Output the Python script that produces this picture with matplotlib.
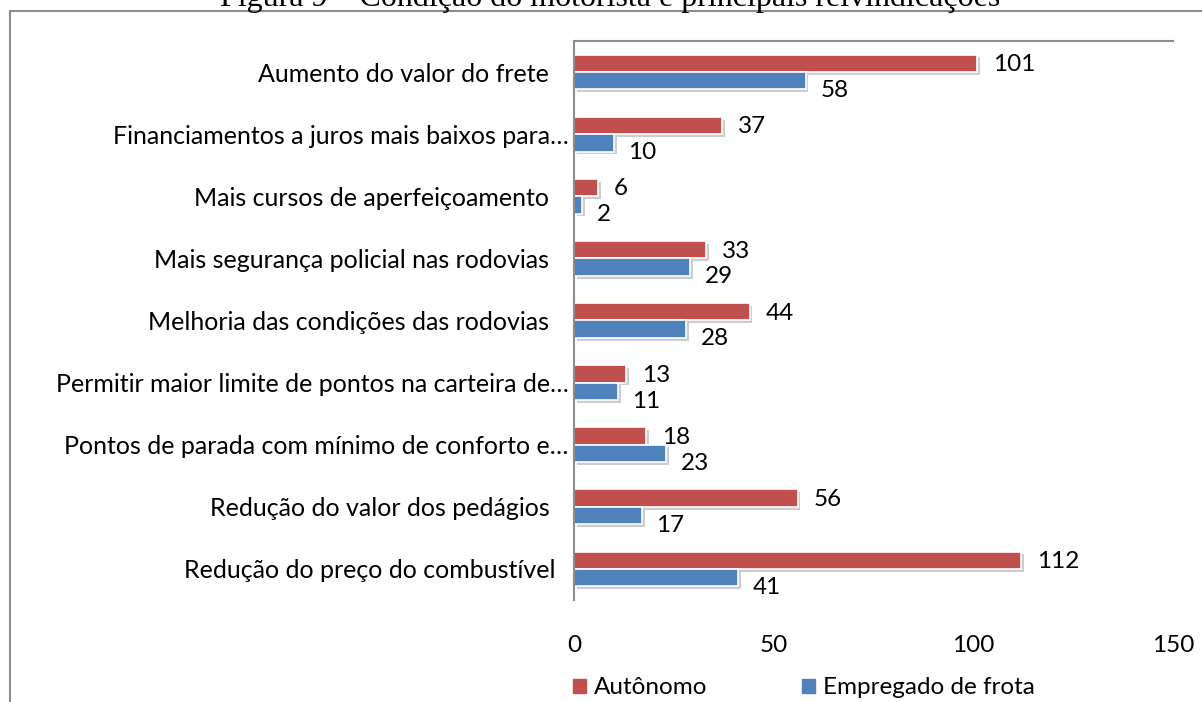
import matplotlib
matplotlib.use("Agg")
from matplotlib import pyplot as plt
from matplotlib import patheffects as pe
from matplotlib.patches import Rectangle, Patch
import numpy as np

plt.rcParams['font.family'] = ['Lato', 'DejaVu Sans']

categories = [
    "Aumento do valor do frete   ",
    "Financiamentos a juros mais baixos para\u2026",
    "Mais cursos de aperfeiçoamento   ",
    "Mais segurança policial nas rodovias   ",
    "Melhoria das condições das rodovias   ",
    "Permitir maior limite de pontos na carteira de\u2026",
    "Pontos de parada com mínimo de conforto e\u2026",
    "Redução do valor dos pedágios   ",
    "Redução do preço do combustível  ",
]
autonomo = [101, 37, 6, 33, 44, 13, 18, 56, 112]
empregado = [58, 10, 2, 29, 28, 11, 23, 17, 41]
series_names = ["Autônomo", "Empregado de frota"]
xticks = [0, 50, 100, 150]

red = "#C0504D"
blue = "#4F81BD"
gray = "#8C8C8C"
fs = 17.5

fig = plt.figure(figsize=(12.02, 7.02), dpi=100)

# outer frame and the cut-off caption above it
fig.patches.append(Rectangle((9.5 / 1202, -0.1), 1.2, 1 - 11 / 702 + 0.1,
                             transform=fig.transFigure, fill=False,
                             edgecolor=gray, linewidth=1.5))
fig.text(610 / 1202, 1 - 6 / 702, "Figura 9 \u2013 Condição do motorista e principais reivindicações",
         family="Liberation Serif", fontsize=23, ha="center", va="baseline")

ax = fig.add_axes([574 / 1202, 1 - 600 / 702, (1173 - 574) / 1202, (600 - 41) / 702])

y = np.arange(len(categories))
h = 0.28
shadow = [pe.SimplePatchShadow(offset=(2, -2), shadow_rgbFace="#9a9a9a", alpha=0.5), pe.Normal()]
b1 = ax.barh(y - h / 2, autonomo, height=h, color=red, edgecolor="white", linewidth=1.2)
b2 = ax.barh(y + h / 2, empregado, height=h, color=blue, edgecolor="white", linewidth=1.2)
for b in list(b1) + list(b2):
    b.set_path_effects(shadow)

for yi, v in zip(y, autonomo):
    ax.annotate(str(v), (v, yi - h / 2), xytext=(11.5, -1), textcoords="offset points",
                ha="left", va="center", fontsize=fs)
for yi, v in zip(y, empregado):
    ax.annotate(str(v), (v, yi + h / 2), xytext=(10.5, -7), textcoords="offset points",
                ha="left", va="center", fontsize=fs)

ax.set_xlim(0, 150)
ax.set_ylim(len(categories) - 0.5, -0.5)
ax.set_yticks(y)
ax.set_yticklabels(categories, fontsize=18)
ax.set_xticks(xticks)
ax.set_xticklabels([str(t) for t in xticks], fontsize=fs)
ax.tick_params(axis="y", length=0, pad=4)
ax.tick_params(axis="x", length=0, pad=25)

for s in ["right", "bottom"]:
    ax.spines[s].set_visible(False)
for s in ["left", "top"]:
    ax.spines[s].set_color(gray)
    ax.spines[s].set_linewidth(1.5)

handles = [Patch(color=red, label=series_names[0]), Patch(color=blue, label=series_names[1])]
fig.legend(handles=handles, loc="center left",
           bbox_to_anchor=(573 / 1202, 1 - 688 / 702), bbox_transform=fig.transFigure,
           ncol=2, frameon=False, fontsize=fs, borderpad=0, borderaxespad=0,
           handlelength=0.53, handleheight=0.53, columnspacing=3.9, handletextpad=0.33)

plt.savefig("out.png", dpi=100)
